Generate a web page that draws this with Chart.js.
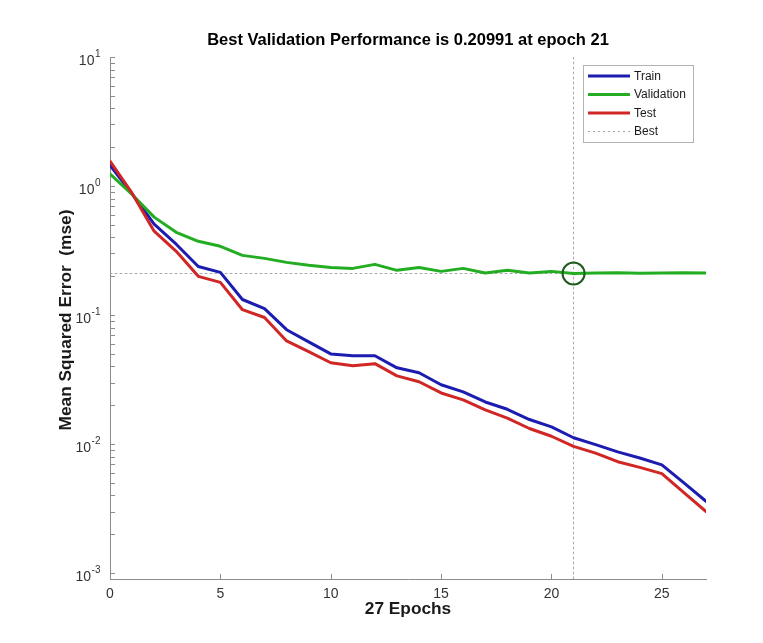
<!DOCTYPE html>
<html>
<head>
<meta charset="utf-8">
<script src="https://cdn.jsdelivr.net/npm/chart.js@4.4.1/dist/chart.umd.min.js"></script>
<style>
  html, body { margin: 0; padding: 0; background: #ffffff; }
  #wrap { width: 763px; height: 643px; }
</style>
</head>
<body>
<div id="wrap"><canvas id="perf" width="763" height="643"></canvas></div>
<script>
// Training record: mean squared error per epoch
const epochs = [0, 1, 2, 3, 4, 5, 6, 7, 8, 9, 10, 11, 12, 13, 14, 15, 16, 17, 18, 19, 20, 21, 22, 23, 24, 25, 26, 27];
const trainMse = [1.45, 0.87, 0.506, 0.354, 0.238, 0.214, 0.132, 0.112, 0.077, 0.062, 0.050, 0.0484, 0.0484, 0.039, 0.0357,
                  0.0288, 0.0254, 0.0212, 0.0186, 0.0155, 0.0136, 0.0112, 0.0099, 0.0087, 0.0078, 0.0069, 0.0050, 0.0036];
const validationMse = [1.24, 0.86, 0.574, 0.438, 0.373, 0.341, 0.290, 0.275, 0.256, 0.243, 0.234, 0.230, 0.247, 0.222, 0.234,
                       0.218, 0.230, 0.212, 0.222, 0.212, 0.218, 0.20991, 0.2115, 0.2125, 0.2110, 0.2118, 0.2130, 0.2120];
const testMse = [1.56, 0.88, 0.447, 0.312, 0.1995, 0.179, 0.110, 0.0957, 0.063, 0.052, 0.0427, 0.0405, 0.042, 0.0338, 0.0304,
                 0.0249, 0.022, 0.0184, 0.0159, 0.0132, 0.0115, 0.0096, 0.0085, 0.0073, 0.0066, 0.0059, 0.0042, 0.0030];
const bestEpoch = 21;
const bestPerf = 0.20991;
const seriesNames = ['Train', 'Validation', 'Test', 'Best'];
const xTickValues = [0, 5, 10, 15, 20, 25];
const yDecades = [-3, -2, -1, 0, 1];
const xRange = [0, 27];
const yRange = [0.0009, 10];
const chartTitle = 'Best Validation Performance is ' + bestPerf + ' at epoch ' + bestEpoch;
const xTitle = epochs[epochs.length - 1] + ' Epochs';
const yTitle = 'Mean Squared Error  (mse)';

const FONT = '"Liberation Sans", Arial, Helvetica, sans-serif';
const AXIS_COLOR = '#8c8c8c';
const LABEL_COLOR = '#333333';

const pts = (vals) => epochs.map((e, i) => ({ x: e, y: vals[i] }));

// title and axis labels, centred on the plot area
const plotTitles = {
  id: 'plotTitles',
  afterDraw(chart) {
    const { ctx, chartArea: a } = chart;
    const cx = (a.left + a.right) / 2;
    const cy = (a.top + a.bottom) / 2;
    ctx.save();
    ctx.textAlign = 'center';
    ctx.textBaseline = 'middle';
    ctx.fillStyle = '#000000';
    ctx.font = 'bold 16.5px ' + FONT;
    ctx.fillText(chartTitle, cx, a.top - 17);
    ctx.fillStyle = '#1a1a1a';
    ctx.font = 'bold 17.3px ' + FONT;
    ctx.fillText(xTitle, cx, a.bottom + 30);
    ctx.translate(a.left - 44, cy + 2);
    ctx.rotate(-Math.PI / 2);
    ctx.fillText(yTitle, 0, 0);
    ctx.restore();
  }
};

// tick marks pointing into the plot, and 10^n labels with raised exponents
const axisDecor = {
  id: 'axisDecor',
  afterDraw(chart) {
    const { ctx, chartArea: a, scales: { x, y } } = chart;
    ctx.save();
    ctx.strokeStyle = AXIS_COLOR;
    ctx.lineWidth = 1;
    ctx.beginPath();
    for (const e of yDecades) {
      for (let m = 1; m <= 9; m++) {
        const v = m * Math.pow(10, e);
        if (v < y.min || v > y.max * 1.0001) continue;
        const py = Math.round(y.getPixelForValue(v)) + 0.5;
        ctx.moveTo(a.left, py);
        ctx.lineTo(a.left + 5, py);
      }
    }
    for (const t of xTickValues) {
      const px = Math.round(x.getPixelForValue(t)) + 0.5;
      ctx.moveTo(px, a.bottom);
      ctx.lineTo(px, a.bottom - 5);
    }
    ctx.stroke();

    ctx.fillStyle = LABEL_COLOR;
    ctx.textBaseline = 'middle';
    ctx.textAlign = 'left';
    const baseFont = '14px ' + FONT;
    const expFont = '10px ' + FONT;
    for (const e of yDecades) {
      const py = y.getPixelForValue(Math.pow(10, e));
      const expText = e < 0 ? '-' + Math.abs(e) : String(e);
      ctx.font = baseFont;
      const wb = ctx.measureText('10').width;
      ctx.font = expFont;
      const we = ctx.measureText(expText).width;
      const x0 = a.left - 10 - wb - we;
      ctx.font = baseFont;
      ctx.fillText('10', x0, py + 4);
      ctx.font = expFont;
      ctx.fillText(expText, x0 + wb + 0.5, py - 3);
    }
    ctx.restore();
  }
};

// boxed legend in the upper right corner of the plot
const boxLegend = {
  id: 'boxLegend',
  afterDraw(chart) {
    const { ctx, chartArea: a } = chart;
    const w = 110, h = 77;
    const bx = a.right - 123, by = a.top + 8;
    ctx.save();
    ctx.fillStyle = '#ffffff';
    ctx.fillRect(bx, by, w, h);
    ctx.strokeStyle = '#b4b4b4';
    ctx.lineWidth = 1;
    ctx.strokeRect(bx + 0.5, by + 0.5, w, h);
    const entries = chart.data.datasets.filter(d => d.legendRow !== undefined)
      .sort((p, q) => p.legendRow - q.legendRow);
    ctx.font = '12px ' + FONT;
    ctx.textBaseline = 'middle';
    ctx.textAlign = 'left';
    entries.forEach((d, i) => {
      const ry = by + 11 + i * 18.5;
      ctx.beginPath();
      ctx.strokeStyle = d.borderColor;
      ctx.lineWidth = d.borderWidth;
      ctx.setLineDash(d.borderDash || []);
      ctx.moveTo(bx + 5, ry);
      ctx.lineTo(bx + 47, ry);
      ctx.stroke();
      ctx.setLineDash([]);
      ctx.fillStyle = '#1a1a1a';
      ctx.fillText(d.label, bx + 51, ry + 0.5);
    });
    ctx.restore();
  }
};

const lineStyle = { pointRadius: 0, fill: false, tension: 0, borderJoinStyle: 'round', borderCapStyle: 'round' };

new Chart(document.getElementById('perf'), {
  type: 'line',
  data: {
    datasets: [
      { label: seriesNames[0], data: pts(trainMse), borderColor: '#1c1cb0', borderWidth: 3, order: 3, legendRow: 0, ...lineStyle },
      { label: seriesNames[1], data: pts(validationMse), borderColor: '#22ad22', borderWidth: 3, order: 2, legendRow: 1, ...lineStyle },
      { label: seriesNames[2], data: pts(testMse), borderColor: '#d02626', borderWidth: 3, order: 1, legendRow: 2, ...lineStyle },
      { label: seriesNames[3], data: [{ x: xRange[0], y: bestPerf }, { x: xRange[1], y: bestPerf }],
        borderColor: '#a8a8a8', borderWidth: 1, borderDash: [2, 3], order: 5, legendRow: 3, ...lineStyle },
      { label: 'bestEpoch', data: [{ x: bestEpoch, y: yRange[1] }, { x: bestEpoch, y: yRange[0] }],
        borderColor: '#a8a8a8', borderWidth: 1, borderDash: [2, 3], order: 5, ...lineStyle },
      { label: 'bestPoint', data: [{ x: bestEpoch, y: bestPerf }], showLine: false,
        pointRadius: 11, pointBorderWidth: 2, pointBorderColor: '#1d5c1d', pointBackgroundColor: 'rgba(0,0,0,0)',
        borderColor: '#1d5c1d', order: 0 }
    ]
  },
  options: {
    responsive: false,
    devicePixelRatio: 1,
    animation: false,
    events: [],
    layout: { padding: { left: 56, right: 57, top: 57, bottom: 34 } },
    plugins: {
      legend: { display: false },
      tooltip: { enabled: false },
      title: { display: false }
    },
    scales: {
      x: {
        type: 'linear',
        min: xRange[0],
        max: xRange[1],
        afterBuildTicks: (s) => { s.ticks = xTickValues.map(v => ({ value: v })); },
        ticks: { color: LABEL_COLOR, font: { family: FONT, size: 14, lineHeight: 1 }, padding: 8, maxRotation: 0 },
        grid: { display: false, drawTicks: false },
        border: { display: true, color: AXIS_COLOR, width: 1 },
        title: { display: false }
      },
      y: {
        type: 'logarithmic',
        min: yRange[0],
        max: yRange[1],
        ticks: { display: false },
        grid: { display: false, drawTicks: false },
        border: { display: true, color: AXIS_COLOR, width: 1 },
        title: { display: false },
        afterFit: (s) => { s.width = 54; }
      }
    }
  },
  plugins: [axisDecor, boxLegend, plotTitles]
});
</script>
</body>
</html>
